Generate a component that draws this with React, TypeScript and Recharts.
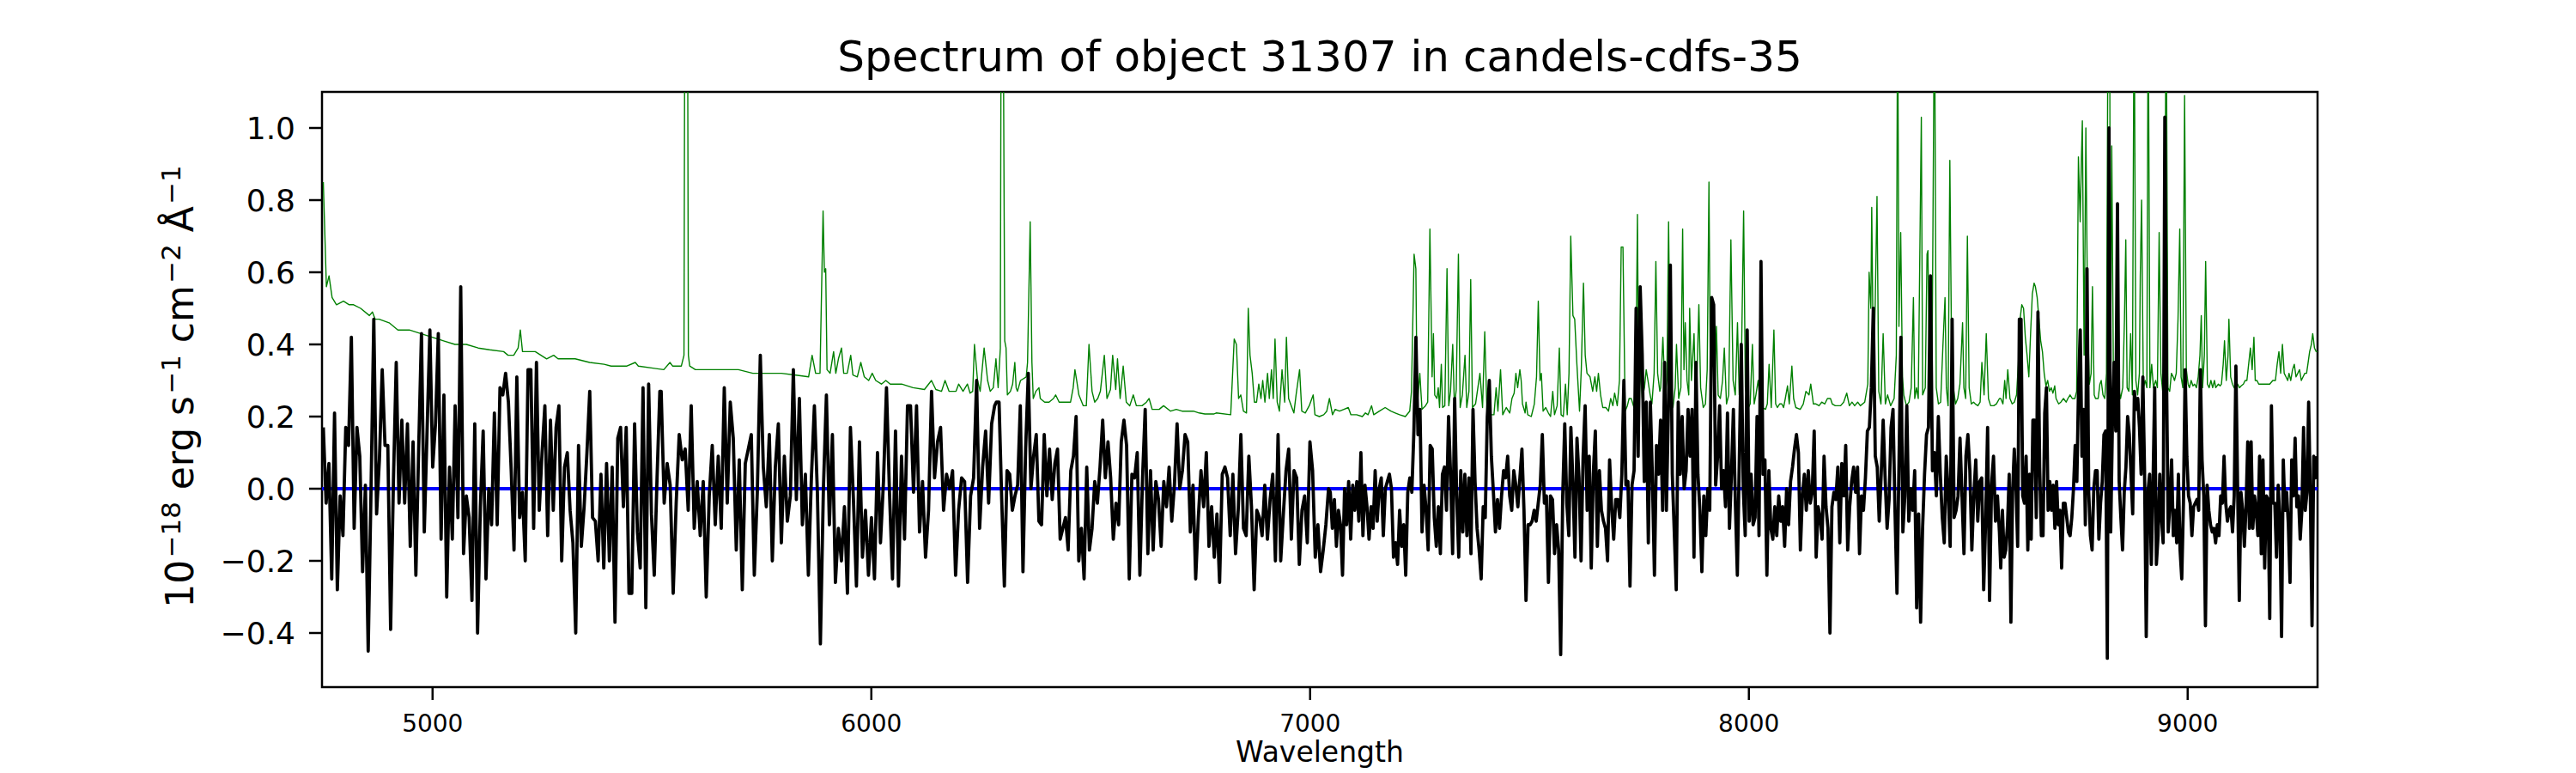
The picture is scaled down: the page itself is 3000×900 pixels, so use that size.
import { LineChart, Line, XAxis, YAxis, ReferenceArea } from 'recharts';

// axis limits
const X_MIN = 4748;
const X_MAX = 9296;
const Y_MIN = -0.55;
const Y_MAX = 1.1;

const xTicks = [5000, 6000, 7000, 8000, 9000];
const yTicks = [-0.4, -0.2, 0, 0.2, 0.4, 0.6, 0.8, 1.0];

// object flux, read in six chunks across the wavelength range
const fluxBlue = [
  0.17, -0.04, 0.07, -0.25, 0.21, -0.28, -0.02, -0.13, 0.17, 0.12, 0.42, -0.11, 0.17, 0.09, -0.23, 0.01,
  -0.45, -0.01, 0.47, -0.07, 0.08, 0.33, 0.12, 0.12, -0.39, 0.02, 0.35, -0.04, 0.19, -0.04, 0.18, -0.16,
  0.13, -0.24, 0.11, 0.43, -0.12, 0.16, 0.44, 0.06, 0.18, 0.43, -0.14, 0.26, -0.3, 0.06, -0.14, 0.23,
  -0.08, 0.56, -0.18, -0.02, -0.08, -0.31, 0.18, -0.4, -0.05, 0.16, -0.25, 0.0, -0.1, 0.21, -0.1, 0.28,
  0.26, 0.32, 0.24, 0.05, -0.17, 0.31, -0.08, -0.01, -0.2, 0.33, 0.33, -0.11, 0.35, -0.06, 0.1, 0.23,
  -0.13, 0.19, -0.06, 0.17, 0.23, -0.2, 0.06, 0.1, -0.06, -0.15, -0.4, 0.12, -0.16, -0.05, 0.1, 0.27,
  -0.08, -0.09, -0.2, 0.04, -0.22, 0.07, -0.2, 0.06, -0.37, 0.14, 0.17, -0.05, 0.17, -0.29, -0.29, 0.18,
  -0.12, -0.22, 0.28, -0.33, 0.29, -0.07, -0.24, 0.03, 0.27,
];
const fluxGreen = [
  0.27, -0.04, 0.07, 0.01, -0.29, -0.04, 0.15, 0.08, 0.11, -0.06, 0.23, -0.11, 0.02, -0.13, 0.02, -0.3,
  -0.02, 0.12, -0.1, 0.09, -0.11, 0.28, -0.04, 0.24, 0.14, -0.17, 0.08, -0.28, 0.07, 0.11, 0.15, -0.24,
  -0.01, 0.37, 0.06, -0.05, 0.15, -0.2, 0.06, 0.18, -0.15, 0.09, -0.09, -0.02, 0.33, -0.03, 0.25, -0.1,
  0.04, -0.24, 0.03, 0.23, -0.01, -0.43, 0.0, 0.26, -0.1, 0.15, -0.26, -0.11, -0.2, -0.05, -0.29, 0.17,
  -0.03, -0.27, 0.13, -0.19, -0.06, -0.24, -0.08, -0.25, 0.1, -0.15, 0.02, 0.28, -0.01, -0.25, 0.16, -0.27,
  0.09, -0.14, 0.23, 0.23, -0.01, 0.23, -0.12, 0.02, -0.19, -0.06, 0.27, 0.03, 0.13, 0.17, -0.06, 0.04,
  0.0, 0.05, -0.24, -0.06, 0.03, 0.02, -0.26, -0.02, 0.03, 0.3, -0.11, 0.06, 0.16, -0.04, 0.18, 0.23,
];
const fluxYellow = [
  0.24, 0.24, -0.03, -0.27, 0.05, 0.04, -0.06, -0.02, 0.01, 0.23, -0.23, 0.11, 0.32, 0.0, 0.09, 0.15,
  -0.09, -0.1, 0.15, -0.02, 0.11, -0.03, 0.07, 0.11, -0.14, -0.11, -0.08, -0.17, 0.05, 0.09, 0.2, -0.2,
  -0.11, -0.25, 0.06, -0.17, -0.11, 0.02, -0.04, 0.06, 0.19, 0.03, 0.13, 0.03, -0.14, -0.04, -0.1, 0.13,
  0.19, 0.12, -0.25, 0.04, 0.03, 0.1, -0.24, 0.03, 0.22, -0.18, 0.05, -0.17, 0.02, -0.03, -0.16, 0.02,
  -0.05, 0.06, -0.09, 0.01, 0.18, 0.0, 0.05, 0.15, 0.13, -0.12, 0.01, -0.25, -0.08, 0.05, -0.05, 0.1,
  -0.16, -0.05, -0.19, -0.07, -0.26, 0.04, 0.06, 0.03, -0.13, 0.04, -0.18, -0.06, 0.15, -0.11, -0.13, 0.09,
  -0.05, -0.28, -0.06, -0.08, -0.13, 0.01, -0.14, -0.03, 0.04, -0.2, 0.15, -0.2, -0.07, 0.05, 0.11, -0.14,
  0.05, 0.03, -0.21, -0.06, -0.02, -0.15, 0.13, 0.05, -0.19, -0.1, -0.23, -0.17, -0.1, 0.0,
];
const fluxRed = [
  -0.01, -0.11, -0.03, -0.16, -0.06, -0.1, -0.24, 0.0, -0.1, 0.02, -0.14, 0.01, -0.06, 0.02, -0.09, 0.1,
  -0.13, 0.01, -0.05, -0.14, -0.05, -0.11, 0.05, -0.09, 0.0, 0.03, -0.13, 0.0, 0.02, 0.04, 0.0, -0.19,
  -0.15, -0.21, -0.06, -0.16, -0.1, -0.24, -0.01, 0.03, -0.01, 0.16, 0.42, 0.15, 0.22, -0.12, 0.01, -0.06,
  -0.17, 0.12, 0.11, -0.08, -0.16, -0.05, -0.18, 0.04, 0.06, -0.06, 0.2, 0.04, -0.18, 0.25, -0.02, -0.19,
  0.05, -0.12, 0.04, -0.13, 0.03, -0.18, 0.22, 0.02, -0.11, -0.17, -0.25, -0.05, -0.08, 0.2, 0.3, 0.09,
  -0.01, -0.12, -0.03, -0.11, -0.02, 0.05, 0.03, 0.09, -0.02, -0.06, 0.05, 0.01, -0.05, 0.03, 0.11, -0.06,
  -0.31, -0.1, -0.1, -0.09, -0.06, -0.09, -0.04, 0.01, 0.15, -0.04, -0.02, -0.26, -0.02, -0.03, -0.18, -0.1,
  -0.17, -0.46, -0.02, 0.18, -0.04, -0.13, 0.17, 0.02, -0.19, 0.14, 0.03, -0.2, 0.09, 0.23, -0.06, 0.09,
  -0.22, 0.04, 0.16, -0.16, 0.05, -0.06, -0.09, -0.11, -0.2, 0.08, -0.05, -0.14, -0.03, -0.03, -0.08, 0.04,
  0.3, 0.01, 0.02, -0.27, 0.01, 0.05, 0.5, 0.09, 0.56, 0.37, 0.02, 0.24, -0.15, 0.24, 0.03, -0.24,
  0.12, 0.04, 0.19, -0.06, 0.35,
];
const fluxFarRed = [
  -0.06, 0.22, 0.62, 0.04, -0.12, -0.28, 0.24, 0.04, 0.2, 0.0, 0.05, 0.22, 0.09, 0.22, -0.19, 0.35,
  0.04, -0.06, -0.23, -0.02, -0.13, 0.0, -0.06, 0.53, 0.51, 0.01, 0.09, 0.23, 0.0, 0.05, -0.05, 0.21,
  -0.11, 0.04, 0.22, -0.04, -0.24, 0.08, 0.4, 0.0, -0.13, 0.44, -0.09, 0.04, -0.1, -0.08, 0.2, -0.13,
  0.63, 0.04, 0.08, -0.24, 0.05, -0.11, -0.14, -0.05, -0.13, -0.02, -0.09, -0.05, -0.16, 0.0, -0.1, 0.02,
  0.06, 0.11, 0.15, 0.1, -0.17, -0.02, 0.04, -0.06, 0.05, -0.04, -0.01, 0.16, -0.19, -0.05, -0.08, -0.14,
  0.09, -0.05, -0.11, -0.4, -0.05, -0.01, -0.03, 0.06, -0.15, 0.07, -0.02, 0.12, -0.17, -0.05, 0.02, 0.06,
  -0.01, 0.06, -0.18, -0.02, -0.06, 0.03, 0.16, 0.17, 0.28, 0.5, 0.09, 0.06, -0.09, 0.04, 0.19, 0.03,
  -0.11, -0.03, 0.17, 0.22, -0.06, -0.29, 0.06, 0.42, -0.12, -0.02, 0.23, -0.09, 0.0, -0.06, 0.05, -0.33,
  -0.07, -0.37, -0.11, 0.04, 0.15, 0.17, 0.59, 0.05, 0.1, -0.02, 0.2, 0.04, -0.08, -0.15, 0.09, -0.01,
  -0.16, 0.47, -0.08, -0.06, -0.02, 0.14, -0.02, -0.18, 0.09, 0.15, 0.05, -0.17, -0.02, 0.08, -0.09, 0.02,
  0.03, -0.28, -0.09, 0.17, -0.31, 0.01, 0.09, -0.09, -0.02, -0.12,
];
const fluxIR = [
  -0.22, -0.06, -0.19, -0.17, -0.1, 0.04, -0.37, -0.01, 0.11, 0.01, -0.16, 0.47, 0.47, -0.02, -0.04, 0.09,
  -0.17, 0.04, -0.14, 0.19, 0.19, -0.08, 0.49, 0.06, -0.13, -0.13, 0.21, 0.28, -0.06, 0.02, -0.06, 0.01,
  -0.11, 0.02, -0.1, -0.06, -0.22, -0.04, -0.04, -0.08, -0.12, -0.13, -0.08, 0.0, 0.12, 0.02, 0.29, 0.44,
  0.09, 0.22, -0.1, 0.61, -0.01, -0.13, -0.17, 0.0, 0.05, 0.05, -0.14, -0.04, 0.02, 0.15, 0.16, -0.47,
  1.0, -0.12, 0.18, 0.35, 0.16, 0.79, 0.02, -0.08, -0.17, -0.01, 0.06, 0.2, 0.15, 0.04, -0.07, 0.27,
  0.22, 0.25, 0.17, 0.04, 0.31, 0.05, -0.41, -0.01, 0.04, -0.21, 0.01, 0.28, -0.21, -0.13, 0.04, -0.08,
  -0.15, 1.03, 0.31, -0.12, -0.04, 0.08, -0.13, -0.06, -0.15, 0.04, -0.17, -0.25, -0.04, 0.33, 0.09, -0.02,
  -0.04, -0.13, -0.05, -0.04, -0.03, -0.06, 0.33, 0.08, -0.02, -0.38, 0.01, -0.06, -0.1, -0.12, -0.11, -0.15,
  -0.1, -0.13, -0.02, -0.04, 0.09, -0.04, -0.09, -0.06, -0.05, -0.12, -0.02, 0.34, 0.01, -0.31, -0.01, -0.06,
  -0.16, -0.05, 0.13, -0.11, 0.13, -0.11, -0.02, -0.06, -0.13, 0.09, -0.18, 0.08, -0.22, -0.02, -0.03, -0.36,
  0.23, -0.04, -0.04, -0.19, 0.01, -0.09, -0.41, 0.08, -0.06, -0.01, -0.1, -0.26, 0.08, -0.02, 0.14, -0.05,
  -0.02, -0.14, -0.06, 0.17, -0.06, -0.01, 0.24, -0.02, -0.38, 0.09, 0.03, 0.09,
];

// wavelength span covered by each flux chunk
const fluxChunks: [number, number, number[]][] = [
  [4751, 5518, fluxBlue],
  [5521, 6281, fluxGreen],
  [6285, 7042, fluxYellow],
  [7046, 7808, fluxRed],
  [7812, 8571, fluxFarRed],
  [8574, 9295, fluxIR],
];

// noise spectrum as [wavelength, value]; sky-line peaks run off the top
const noiseBlue: [number, number][] = [
  [4751, 0.85], [4758, 0.56], [4764, 0.59], [4771, 0.53], [4781, 0.51], [4797, 0.52], [4810, 0.51], [4820, 0.51],
  [4836, 0.5], [4856, 0.48], [4863, 0.49], [4869, 0.47], [4878, 0.47], [4901, 0.46], [4921, 0.44], [4947, 0.44],
  [4973, 0.43], [4999, 0.42], [5025, 0.41], [5051, 0.4], [5077, 0.4], [5104, 0.39], [5130, 0.385], [5162, 0.38],
  [5172, 0.37], [5185, 0.37], [5195, 0.39], [5200, 0.44], [5205, 0.38], [5221, 0.38], [5234, 0.38], [5247, 0.37],
  [5260, 0.36], [5276, 0.37], [5286, 0.36], [5325, 0.36], [5358, 0.35], [5391, 0.345], [5407, 0.34], [5443, 0.34],
  [5462, 0.35], [5469, 0.34], [5527, 0.33], [5541, 0.35], [5547, 0.34], [5567, 0.34], [5573, 0.37], [5576, 2.0],
  [5580, 2.0], [5583, 0.37], [5586, 0.34], [5599, 0.33], [5619, 0.33], [5645, 0.33], [5665, 0.33], [5697, 0.33],
  [5730, 0.32], [5762, 0.32], [5795, 0.32], [5828, 0.315], [5857, 0.31], [5865, 0.37], [5873, 0.32], [5883, 0.32],
  [5890, 0.77], [5893, 0.6], [5896, 0.61], [5899, 0.33], [5906, 0.32], [5914, 0.38], [5919, 0.32], [5925, 0.36],
  [5932, 0.39], [5937, 0.32], [5945, 0.32], [5953, 0.37], [5958, 0.315], [5968, 0.31], [5976, 0.35], [5984, 0.31],
  [5994, 0.3], [6002, 0.32], [6010, 0.3], [6023, 0.29], [6033, 0.3], [6043, 0.29], [6069, 0.29], [6095, 0.28],
  [6121, 0.275], [6137, 0.3], [6147, 0.275], [6160, 0.27], [6168, 0.3], [6177, 0.27], [6193, 0.27], [6199, 0.29],
  [6209, 0.27], [6219, 0.29], [6225, 0.265], [6231, 0.27], [6235, 0.4], [6242, 0.3], [6248, 0.27], [6257, 0.39],
  [6265, 0.3], [6271, 0.27],
];
const noiseMid: [number, number][] = [
  [6278, 0.28], [6284, 0.36], [6289, 0.28], [6294, 0.39], [6296, 1.5], [6300, 1.5], [6304, 0.41], [6307, 0.39],
  [6310, 0.26], [6317, 0.27], [6322, 0.29], [6327, 0.35], [6330, 0.28], [6333, 0.27], [6340, 0.3], [6353, 0.31],
  [6356, 0.35], [6362, 0.74], [6366, 0.35], [6369, 0.25], [6375, 0.27], [6382, 0.28], [6385, 0.25], [6395, 0.24],
  [6405, 0.24], [6415, 0.25], [6420, 0.26], [6428, 0.24], [6441, 0.24], [6454, 0.24], [6460, 0.28], [6464, 0.33],
  [6468, 0.3], [6473, 0.26], [6483, 0.23], [6490, 0.23], [6496, 0.4], [6503, 0.27], [6509, 0.24], [6516, 0.25],
  [6522, 0.27], [6531, 0.37], [6537, 0.25], [6545, 0.275], [6550, 0.37], [6557, 0.275], [6561, 0.36], [6567, 0.25],
  [6574, 0.34], [6581, 0.24], [6589, 0.23], [6597, 0.26], [6604, 0.23], [6617, 0.23], [6627, 0.24], [6633, 0.25],
  [6640, 0.22], [6656, 0.22], [6666, 0.23], [6682, 0.215], [6695, 0.22], [6708, 0.215], [6734, 0.215], [6747, 0.21],
  [6760, 0.207], [6780, 0.207], [6786, 0.21], [6819, 0.205], [6827, 0.415], [6832, 0.4], [6837, 0.25], [6842, 0.26],
  [6848, 0.215], [6855, 0.21], [6859, 0.5], [6863, 0.37], [6868, 0.32], [6873, 0.24], [6878, 0.24], [6883, 0.29],
  [6888, 0.25], [6892, 0.3], [6897, 0.24], [6903, 0.32], [6907, 0.25], [6912, 0.33], [6916, 0.25], [6920, 0.415],
  [6925, 0.24], [6930, 0.215], [6936, 0.33], [6942, 0.24], [6946, 0.42], [6951, 0.25], [6957, 0.23], [6963, 0.21],
  [6968, 0.26], [6976, 0.33], [6981, 0.215], [6989, 0.21], [6998, 0.23], [7007, 0.26], [7011, 0.205], [7021, 0.2],
  [7031, 0.205], [7038, 0.215], [7044, 0.25], [7051, 0.205], [7057, 0.22], [7067, 0.215], [7077, 0.22], [7087, 0.225],
  [7093, 0.205], [7106, 0.205], [7119, 0.2], [7126, 0.21], [7132, 0.205], [7140, 0.23], [7145, 0.205], [7158, 0.215],
  [7171, 0.225], [7184, 0.215], [7194, 0.21], [7204, 0.205], [7217, 0.2], [7227, 0.215], [7231, 0.27], [7237, 0.65],
  [7241, 0.61], [7244, 0.225], [7250, 0.32], [7255, 0.22], [7263, 0.23], [7268, 0.24], [7273, 0.72], [7278, 0.31],
  [7281, 0.43], [7284, 0.26], [7289, 0.25], [7292, 0.28], [7295, 0.225], [7299, 0.345], [7302, 0.225], [7307, 0.23],
  [7312, 0.61], [7316, 0.23], [7320, 0.27], [7325, 0.4], [7329, 0.225], [7333, 0.275], [7338, 0.65], [7342, 0.225],
  [7347, 0.26], [7353, 0.37], [7357, 0.225], [7362, 0.27], [7366, 0.58], [7370, 0.225], [7377, 0.235], [7387, 0.32],
  [7393, 0.225], [7398, 0.435], [7403, 0.215], [7413, 0.205], [7419, 0.205], [7424, 0.28], [7428, 0.215], [7434, 0.33],
  [7439, 0.205], [7447, 0.225], [7455, 0.21], [7460, 0.25], [7465, 0.265], [7469, 0.32], [7473, 0.28], [7478, 0.33],
  [7481, 0.3], [7484, 0.235], [7490, 0.21], [7492, 0.24], [7496, 0.205], [7504, 0.2], [7511, 0.235], [7516, 0.31],
  [7520, 0.52], [7524, 0.3], [7527, 0.32], [7531, 0.215], [7537, 0.225], [7543, 0.21], [7548, 0.2], [7553, 0.27],
  [7557, 0.205], [7563, 0.23], [7568, 0.39], [7572, 0.205], [7577, 0.2], [7582, 0.29], [7586, 0.205], [7590, 0.32],
  [7594, 0.7], [7599, 0.48], [7603, 0.47], [7608, 0.345], [7614, 0.215], [7618, 0.33], [7623, 0.57], [7627, 0.37],
  [7631, 0.32], [7638, 0.31], [7644, 0.27], [7649, 0.31], [7653, 0.27], [7657, 0.32], [7662, 0.26], [7667, 0.225],
  [7674, 0.225], [7680, 0.215], [7685, 0.25], [7690, 0.23], [7694, 0.265], [7700, 0.23], [7705, 0.3], [7709, 0.67],
  [7713, 0.67], [7718, 0.215], [7723, 0.23], [7727, 0.25], [7732, 0.25], [7738, 0.225], [7742, 0.26], [7746, 0.76],
  [7749, 0.225], [7753, 0.33], [7757, 0.25], [7762, 0.28], [7766, 0.33], [7770, 0.3], [7775, 0.26], [7779, 0.235],
  [7784, 0.32], [7788, 0.63], [7792, 0.32], [7797, 0.27],
];
const noiseRed: [number, number][] = [
  [7799, 0.28], [7804, 0.42], [7809, 0.26], [7813, 0.3], [7817, 0.74], [7821, 0.27], [7827, 0.225], [7832, 0.28],
  [7835, 0.4], [7840, 0.25], [7845, 0.28], [7849, 0.72], [7852, 0.33], [7855, 0.46], [7859, 0.3], [7863, 0.26],
  [7865, 0.5], [7869, 0.3], [7875, 0.43], [7878, 0.27], [7881, 0.28], [7886, 0.51], [7890, 0.28], [7896, 0.225],
  [7901, 0.235], [7905, 0.33], [7909, 0.85], [7912, 0.345], [7916, 0.45], [7922, 0.26], [7926, 0.45], [7930, 0.26],
  [7935, 0.25], [7940, 0.3], [7944, 0.39], [7949, 0.235], [7954, 0.26], [7959, 0.69], [7964, 0.3], [7969, 0.26],
  [7974, 0.46], [7978, 0.26], [7982, 0.27], [7988, 0.77], [7992, 0.28], [7999, 0.225], [8003, 0.235], [8008, 0.4],
  [8012, 0.235], [8016, 0.26], [8021, 0.3], [8026, 0.235], [8031, 0.225], [8038, 0.22], [8042, 0.235], [8046, 0.345],
  [8051, 0.225], [8057, 0.44], [8061, 0.235], [8065, 0.225], [8070, 0.235], [8075, 0.235], [8079, 0.225], [8083, 0.25],
  [8088, 0.285], [8092, 0.235], [8098, 0.34], [8102, 0.25], [8107, 0.225], [8117, 0.22], [8124, 0.235], [8130, 0.27],
  [8137, 0.26], [8141, 0.29], [8147, 0.235], [8153, 0.235], [8160, 0.23], [8166, 0.24], [8173, 0.235], [8179, 0.25],
  [8186, 0.25], [8190, 0.235], [8197, 0.23], [8209, 0.23], [8216, 0.24], [8223, 0.265], [8229, 0.23], [8235, 0.24],
  [8241, 0.23], [8248, 0.24], [8254, 0.23], [8264, 0.24], [8271, 0.29], [8274, 0.6], [8278, 0.5], [8280, 0.78],
  [8284, 0.3], [8288, 0.52], [8292, 0.81], [8296, 0.27], [8301, 0.235], [8306, 0.43], [8311, 0.235], [8316, 0.26],
  [8323, 0.23], [8331, 0.25], [8336, 0.37], [8339, 1.4], [8342, 0.45], [8346, 0.71], [8350, 0.31], [8353, 0.26],
  [8359, 0.23], [8365, 0.24], [8370, 0.28], [8375, 0.53], [8378, 0.25], [8382, 0.28], [8386, 0.25], [8393, 1.03],
  [8396, 0.26], [8402, 0.28], [8406, 0.65], [8408, 0.66], [8412, 0.28], [8417, 0.25], [8423, 1.4], [8427, 0.28],
  [8432, 0.235], [8437, 0.24], [8442, 0.39], [8447, 0.53], [8450, 0.28], [8454, 0.23], [8458, 0.91], [8462, 0.37],
  [8466, 0.28], [8471, 0.235], [8476, 0.25], [8481, 0.29], [8487, 0.46], [8490, 0.28], [8494, 0.25], [8498, 0.7],
  [8502, 0.28], [8507, 0.235], [8512, 0.24], [8516, 0.235], [8522, 0.23], [8527, 0.24], [8531, 0.35], [8536, 0.26],
  [8541, 0.43], [8546, 0.25], [8551, 0.23], [8558, 0.23], [8564, 0.235], [8571, 0.25],
];
const noiseIR: [number, number][] = [
  [8574, 0.25], [8579, 0.235], [8583, 0.3], [8586, 0.25], [8590, 0.33], [8595, 0.25], [8600, 0.235], [8605, 0.24],
  [8610, 0.26], [8614, 0.345], [8618, 0.47], [8622, 0.51], [8626, 0.5], [8630, 0.42], [8634, 0.37], [8638, 0.31],
  [8642, 0.43], [8646, 0.54], [8650, 0.57], [8653, 0.56], [8657, 0.53], [8661, 0.47], [8665, 0.41], [8669, 0.38],
  [8673, 0.32], [8677, 0.285], [8681, 0.3], [8685, 0.27], [8689, 0.28], [8693, 0.265], [8697, 0.285], [8700, 0.25],
  [8706, 0.235], [8711, 0.24], [8717, 0.25], [8723, 0.24], [8727, 0.25], [8732, 0.26], [8737, 0.25], [8743, 0.25],
  [8747, 0.27], [8751, 0.92], [8755, 0.74], [8758, 0.92], [8760, 1.02], [8764, 0.37], [8768, 1.0], [8772, 0.47],
  [8776, 0.29], [8780, 0.32], [8783, 0.56], [8787, 0.26], [8790, 0.25], [8796, 0.25], [8800, 0.29], [8803, 0.3],
  [8807, 0.26], [8811, 0.25], [8815, 0.32], [8819, 1.5], [8822, 1.5], [8824, 0.3], [8827, 0.95], [8831, 0.27],
  [8835, 0.26], [8839, 0.3], [8843, 0.28], [8847, 0.25], [8852, 0.28], [8856, 0.47], [8859, 0.69], [8862, 0.28],
  [8866, 0.27], [8870, 0.43], [8874, 0.26], [8878, 1.4], [8882, 0.3], [8886, 0.26], [8890, 0.32], [8892, 0.59],
  [8895, 0.8], [8899, 0.28], [8903, 0.3], [8907, 0.28], [8910, 1.4], [8914, 0.28], [8918, 0.345], [8922, 0.28],
  [8927, 0.3], [8931, 0.28], [8935, 0.71], [8939, 0.32], [8943, 0.27], [8947, 0.42], [8951, 1.4], [8955, 0.28],
  [8959, 0.27], [8963, 0.32], [8967, 0.31], [8970, 0.3], [8974, 0.32], [8978, 0.47], [8982, 0.72], [8985, 0.31],
  [8989, 0.28], [8993, 1.09], [8997, 0.33], [9001, 0.29], [9004, 0.28], [9008, 0.3], [9012, 0.285], [9016, 0.29],
  [9020, 0.28], [9024, 0.31], [9028, 0.37], [9031, 0.48], [9034, 0.28], [9038, 0.37], [9041, 0.63], [9045, 0.29],
  [9049, 0.28], [9053, 0.3], [9057, 0.28], [9061, 0.3], [9064, 0.28], [9070, 0.29], [9074, 0.285], [9077, 0.29],
  [9081, 0.345], [9084, 0.41], [9088, 0.3], [9092, 0.37], [9094, 0.47], [9098, 0.31], [9102, 0.29], [9106, 0.28],
  [9110, 0.285], [9114, 0.29], [9118, 0.28], [9122, 0.285], [9127, 0.29], [9131, 0.3], [9135, 0.3], [9139, 0.345],
  [9143, 0.39], [9147, 0.33], [9151, 0.42], [9154, 0.3], [9158, 0.3], [9162, 0.29], [9168, 0.29], [9174, 0.29],
  [9181, 0.29], [9187, 0.29], [9194, 0.3], [9200, 0.3], [9204, 0.345], [9208, 0.38], [9212, 0.32], [9216, 0.4],
  [9220, 0.32], [9224, 0.31], [9228, 0.3], [9231, 0.32], [9235, 0.3], [9239, 0.33], [9243, 0.345], [9247, 0.31],
  [9251, 0.32], [9255, 0.33], [9259, 0.3], [9263, 0.31], [9267, 0.32], [9271, 0.32], [9274, 0.345], [9278, 0.38],
  [9282, 0.4], [9285, 0.43], [9289, 0.39], [9293, 0.38], [9297, 0.38],
];

const zeroLevel: [number, number][] = [[X_MIN, 0], [X_MAX, 0]];

const fluxData = fluxChunks.flatMap(([from, to, vals]) =>
  vals.map((v, i) => ({ wl: from + (i * (to - from)) / (vals.length - 1), v }))
);
const noiseData = [...noiseBlue, ...noiseMid, ...noiseRed, ...noiseIR].map(([wl, v]) => ({ wl, v }));
const zeroData = zeroLevel.map(([wl, v]) => ({ wl, v }));

const FONT = '"DejaVu Sans", sans-serif';
const fmt = (v: number) => v.toFixed(1).replace('-', '\u2212');

const supStyle = { fontSize: '0.7em', position: 'relative' as const, top: '-0.5em', marginLeft: '0.08em' };

export default function App() {
  return (
    <div style={{ position: 'relative', width: 3000, height: 900, background: '#fff', fontFamily: FONT, color: '#000' }}>
      <style>{'body{margin:0}'}</style>
      <LineChart width={3000} height={900} margin={{ top: 107, right: 301, bottom: 0, left: 0 }}>
        <XAxis
          type="number"
          dataKey="wl"
          domain={[X_MIN, X_MAX]}
          allowDataOverflow
          ticks={xTicks}
          interval={0}
          height={100}
          tickSize={15}
          tickMargin={17}
          axisLine={false}
          tickLine={{ stroke: '#000', strokeWidth: 2.5 }}
          tick={{ fill: '#000', fontSize: 28, fontFamily: FONT }}
        />
        <YAxis
          type="number"
          dataKey="v"
          domain={[Y_MIN, Y_MAX]}
          allowDataOverflow
          ticks={yTicks}
          interval={0}
          width={375}
          tickSize={15}
          tickMargin={16}
          axisLine={false}
          tickFormatter={fmt}
          tickLine={{ stroke: '#000', strokeWidth: 2.5 }}
          tick={{ fill: '#000', fontSize: 36, fontFamily: FONT }}
        />
        <Line data={zeroData} dataKey="v" stroke="#0000ff" strokeWidth={4.2} dot={false} activeDot={false} isAnimationActive={false} />
        <Line data={noiseData} dataKey="v" stroke="#008000" strokeWidth={1.4} dot={false} activeDot={false} isAnimationActive={false} strokeLinejoin="round" />
        <Line data={fluxData} dataKey="v" stroke="#000" strokeWidth={3.8} dot={false} activeDot={false} isAnimationActive={false} strokeLinejoin="round" />
        <ReferenceArea x1={X_MIN} x2={X_MAX} y1={Y_MIN} y2={Y_MAX} fill="none" stroke="#000" strokeWidth={2.5} ifOverflow="visible" />
      </LineChart>

      <div style={{ position: 'absolute', left: 1537, top: 41, transform: 'translateX(-50%)', fontSize: 50, lineHeight: 1, whiteSpace: 'nowrap' }}>
        Spectrum of object 31307 in candels-cdfs-35
      </div>
      <div style={{ position: 'absolute', left: 1537, top: 859, transform: 'translateX(-50%)', fontSize: 33, lineHeight: 1, whiteSpace: 'nowrap' }}>
        Wavelength
      </div>
      <div style={{ position: 'absolute', left: 210, top: 450, width: 0, height: 0 }}>
        <div style={{ position: 'absolute', left: 0, top: 0, transform: 'translate(-50%, -50%) rotate(-90deg)', fontSize: 44, lineHeight: 1, whiteSpace: 'nowrap' }}>
          10<span style={supStyle}>−18</span> erg s<span style={supStyle}>−1</span> cm<span style={supStyle}>−2</span> Å<span style={supStyle}>−1</span>
        </div>
      </div>
    </div>
  );
}
